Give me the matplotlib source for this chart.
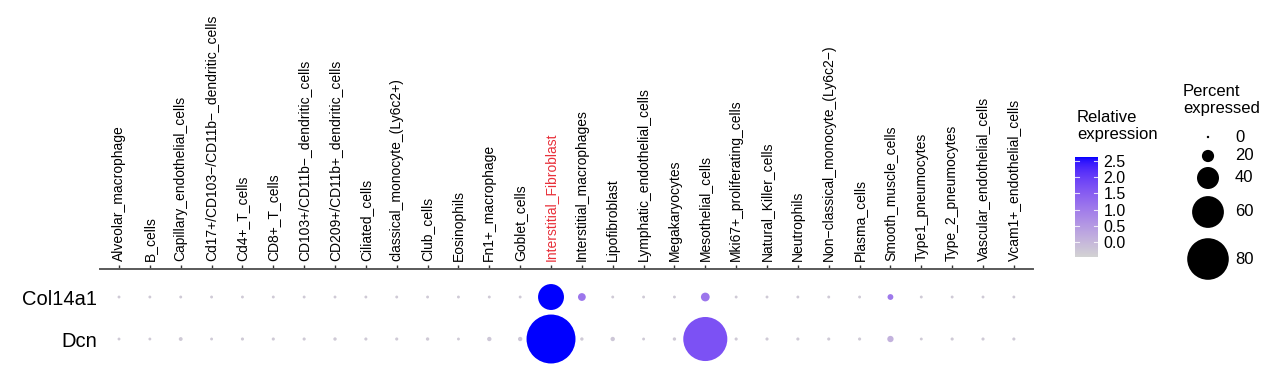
import numpy as np
import matplotlib
matplotlib.use("Agg")
import matplotlib.pyplot as plt
from matplotlib.colors import ListedColormap, Normalize

plt.rcParams['font.family'] = ['Liberation Sans', 'DejaVu Sans']

# ---------------- data ----------------
cell_types = [
    "Alveolar_macrophage", "B_cells", "Capillary_endothelial_cells",
    "Cd17+/CD103\u2212/CD11b\u2212_dendritic_cells", "Cd4+_T_cells", "CD8+_T_cells",
    "CD103+/CD11b\u2212_dendritic_cells", "CD209+/CD11b+_dendritic_cells",
    "Ciliated_cells", "classical_monocyte_(Ly6c2+)", "Club_cells", "Eosinophils",
    "Fn1+_macrophage", "Goblet_cells", "Interstitial_Fibroblast",
    "Interstitial_macrophages", "Lipofibroblast", "Lymphatic_endothelial_cells",
    "Megakaryocytes", "Mesothelial_cells", "Mki67+_proliferating_cells",
    "Natural_Killer_cells", "Neutrophils", "Non\u2212classical_monocyte_(Ly6c2\u2212)",
    "Plasma_cells", "Smooth_muscle_cells", "Type1_pneumocytes",
    "Type_2_pneumocytes", "Vascular_endothelial_cells", "Vcam1+_endothelial_cells",
]
highlight = "Interstitial_Fibroblast"
genes = ["Col14a1", "Dcn"]

pct_col14a1 = [1, 1, 1, 1, 1, 1, 1, 1, 1, 1,
               1, 1, 1, 1, 48, 11, 1, 1, 1, 13,
               1, 1, 1, 1, 1, 7, 1, 1, 1, 1]
pct_dcn = [1, 1, 3, 1, 1.5, 1.5, 1.5, 2, 1.5, 1.5,
           2, 1, 4, 4, 95, 2, 4, 1, 2, 85,
           1.5, 1.5, 1.5, 1.5, 1.5, 8, 1, 1.5, 1.5, 1.5]
exp_col14a1 = [-0.3, -0.3, -0.3, -0.3, -0.3, -0.3, -0.3, -0.3, -0.3, -0.3,
               -0.3, -0.3, -0.3, -0.3, 2.62, 1.1, -0.3, -0.3, -0.3, 1.1,
               -0.3, -0.3, -0.3, -0.3, -0.3, 1.05, -0.3, -0.3, -0.3, -0.3]
exp_dcn = [-0.3, -0.3, -0.3, -0.3, -0.3, -0.3, -0.3, -0.3, -0.3, -0.3,
           -0.3, -0.3, -0.25, -0.25, 2.62, -0.3, -0.25, -0.3, -0.3, 1.7,
           -0.3, -0.3, -0.3, -0.3, -0.3, 0.1, -0.3, -0.3, -0.3, -0.3]

legend_pct = [0, 20, 40, 60, 80]
cbar_ticks = [0.0, 0.5, 1.0, 1.5, 2.0, 2.5]
vmin, vmax = -0.46, 2.62

# ---------------- colour map (Lab interpolation lightgrey -> blue) ----------------
def srgb_to_lab(rgb):
    rgb = np.asarray(rgb, float)
    lin = np.where(rgb <= 0.04045, rgb / 12.92, ((rgb + 0.055) / 1.055) ** 2.4)
    M = np.array([[0.4124, 0.3576, 0.1805],
                  [0.2126, 0.7152, 0.0722],
                  [0.0193, 0.1192, 0.9505]])
    xyz = M @ lin
    wp = np.array([0.95047, 1.0, 1.08883])
    t = xyz / wp
    f = np.where(t > (6/29)**3, np.cbrt(t), t / (3*(6/29)**2) + 4/29)
    return np.array([116*f[1]-16, 500*(f[0]-f[1]), 200*(f[1]-f[2])])

def lab_to_srgb(lab):
    L, a, b = lab
    fy_ = (L + 16) / 116
    fx_ = fy_ + a / 500
    fz_ = fy_ - b / 200
    f = np.array([fx_, fy_, fz_])
    t = np.where(f > 6/29, f**3, 3*(6/29)**2*(f - 4/29))
    xyz = t * np.array([0.95047, 1.0, 1.08883])
    Minv = np.array([[3.2406, -1.5372, -0.4986],
                     [-0.9689, 1.8758, 0.0415],
                     [0.0557, -0.2040, 1.0570]])
    lin = np.clip(Minv @ xyz, 0, 1)
    rgb = np.where(lin <= 0.0031308, 12.92*lin, 1.055*lin**(1/2.4) - 0.055)
    return np.clip(rgb, 0, 1)

lab0 = srgb_to_lab([211/255, 211/255, 211/255])
lab1 = srgb_to_lab([0, 0, 1])
cols = [lab_to_srgb(lab0 + (lab1 - lab0) * t) for t in np.linspace(0, 1, 256)]
cmap = ListedColormap(cols)
norm = Normalize(vmin=vmin, vmax=vmax)

def pct_to_size(p):
    d_px = 2.4 + 0.49 * np.asarray(p, float)
    return (d_px * 0.72) ** 2

# ---------------- figure ----------------
W, H = 1273, 369
fig = plt.figure(figsize=(W/100, H/100), dpi=100)

def fx(px):
    return px / W

def fy(py):
    return 1 - py / H

ax = fig.add_axes([fx(100), 0, fx(1033) - fx(100), fy(269)])
x = np.arange(len(cell_types))
for yi, pct, ex in [(1, pct_col14a1, exp_col14a1), (0, pct_dcn, exp_dcn)]:
    ax.scatter(x, np.full(len(x), yi), s=pct_to_size(pct), c=ex, cmap=cmap,
               norm=norm, linewidths=0, zorder=3)

ax.set_xlim(-0.616, 29.62)
ax.set_ylim(-0.714, 1.667)
for s in ["bottom", "left", "right"]:
    ax.spines[s].set_visible(False)
ax.spines["top"].set_color("#5a5a5a")
ax.spines["top"].set_linewidth(1.4)
ax.xaxis.tick_top()
ax.set_xticks(x)
ax.set_xticklabels(cell_types, rotation=90, fontsize=10, va="bottom", ha="center")
ax.tick_params(axis="x", direction="out", length=3, width=1, color="#333333", pad=3)
for lbl in ax.get_xticklabels():
    if lbl.get_text() == highlight:
        lbl.set_color("#E8303A")
ax.set_yticks([1, 0])
ax.set_yticklabels(genes, fontsize=14.5)
ax.tick_params(axis="y", length=0, pad=2)
ax.set_facecolor("none")

# ---------------- colour bar ----------------
cax = fig.add_axes([fx(1075), fy(257), fx(1098) - fx(1075), fy(157) - fy(257)])
grad = np.linspace(vmin, vmax, 256).reshape(-1, 1)
cax.imshow(grad, aspect="auto", cmap=cmap, norm=norm, origin="lower",
           extent=[0, 1, vmin, vmax])
cax.set_xlim(0, 1)
cax.set_ylim(vmin, vmax)
cax.set_xticks([])
for s in cax.spines.values():
    s.set_visible(False)
cax.yaxis.tick_right()
cax.set_yticks(cbar_ticks)
cax.set_yticklabels([f"{t:.1f}" for t in cbar_ticks], fontsize=11.5)
cax.tick_params(axis="y", length=0, pad=4)
for t in cbar_ticks:
    cax.plot([0, 0.18], [t, t], color="white", lw=0.8, alpha=0.8)
    cax.plot([0.82, 1], [t, t], color="white", lw=0.8, alpha=0.8)
fig.text(fx(1077), fy(142), "Relative\nexpression", fontsize=12,
         ha="left", va="bottom", linespacing=1.15)

# ---------------- size legend ----------------
lax = fig.add_axes([0, 0, 1, 1])
lax.set_xlim(0, W)
lax.set_ylim(H, 0)
lax.axis("off")
leg_y = [137, 156, 178, 212, 259]
lax.scatter([1208]*len(legend_pct), leg_y, s=pct_to_size(legend_pct), c="black",
            linewidths=0)
for p, yy in zip(legend_pct, leg_y):
    lax.text(1235, yy, str(p), fontsize=12, ha="left", va="center")
lax.text(1183, 116, "Percent\nexpressed", fontsize=12, ha="left", va="bottom",
         linespacing=1.15)

fig.savefig("out.png", dpi=100)
